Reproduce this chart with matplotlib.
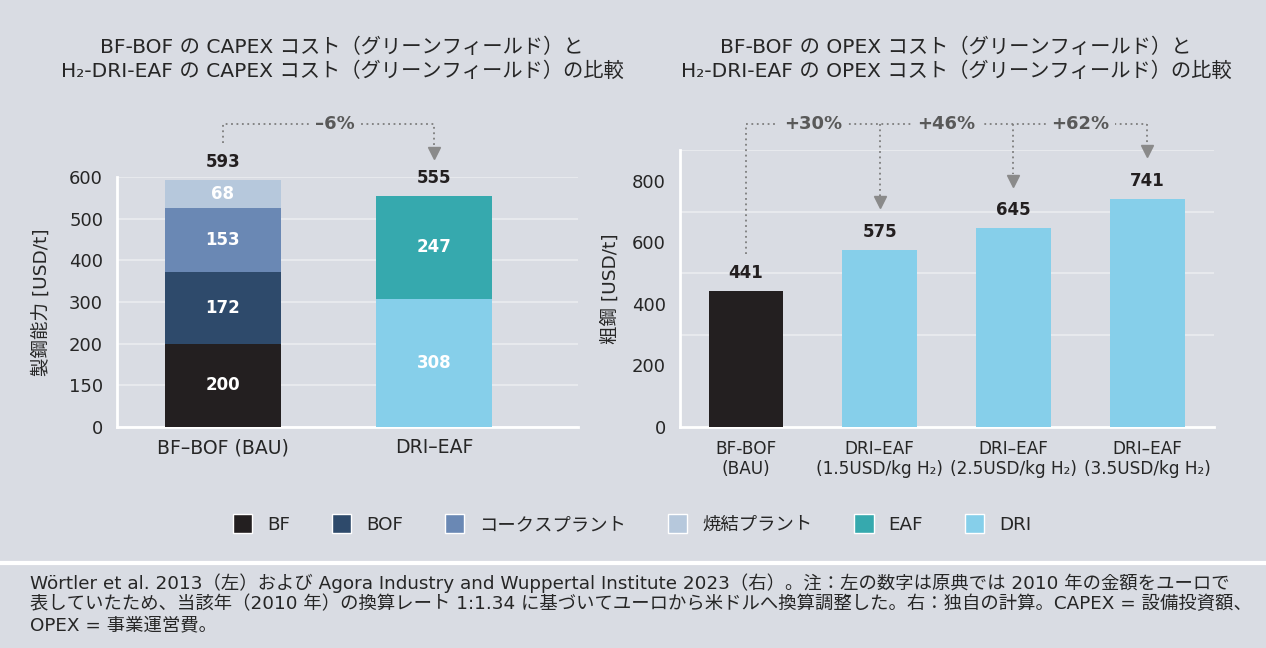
import matplotlib
matplotlib.use('Agg')
import matplotlib.pyplot as plt
from matplotlib.patches import Patch
from matplotlib.lines import Line2D

plt.rcParams['font.family'] = ['DejaVu Sans', 'Noto Sans CJK JP']

# ---------------- data ----------------
capex_categories = ['BF–BOF (BAU)', 'DRI–EAF']
capex_bf = [200, 0]
capex_bof = [172, 0]
capex_coke = [153, 0]
capex_sinter = [68, 0]
capex_dri = [0, 308]
capex_eaf = [0, 247]
capex_change_label = '–6%'
capex_yticks = [0, 100, 200, 300, 400, 500, 600]
capex_yticklabels = ['0', '150', '200', '300', '400', '500', '600']

opex_categories = ['BF-BOF\n(BAU)', 'DRI–EAF\n(1.5USD/kg H₂)',
                   'DRI–EAF\n(2.5USD/kg H₂)', 'DRI–EAF\n(3.5USD/kg H₂)']
opex_values = [441, 575, 645, 741]
opex_change_labels = ['+30%', '+46%', '+62%']
opex_yticks = [0, 200, 400, 600, 800]
opex_gridlines = [300, 500, 700, 900]

legend_labels = ['BF', 'BOF', 'コークスプラント', '焼結プラント', 'EAF', 'DRI']

title_left = 'BF-BOF の CAPEX コスト（グリーンフィールド）と\nH₂-DRI-EAF の CAPEX コスト（グリーンフィールド）の比較'
title_right = 'BF-BOF の OPEX コスト（グリーンフィールド）と\nH₂-DRI-EAF の OPEX コスト（グリーンフィールド）の比較'
ylabel_left = '製鋼能力 [USD/t]'
ylabel_right = '粗鋼 [USD/t]'
footnote_lines = [
    'Wörtler et al. 2013（左）および Agora Industry and Wuppertal Institute 2023（右）。注：左の数字は原典では 2010 年の金額をユーロで',
    '表していたため、当該年（2010 年）の換算レート 1:1.34 に基づいてユーロから米ドルへ換算調整した。右：独自の計算。CAPEX = 設備投資額、',
    'OPEX = 事業運営費。',
]

# ---------------- style ----------------
BG = '#d9dce3'
GRID = '#e7e9ed'
TXT = '#262626'
DARK = '#231f20'
C_BF = '#231f20'
C_BOF = '#2e4a6b'
C_COKE = '#6a88b4'
C_SINTER = '#b6c8dc'
C_EAF = '#36a9ae'
C_DRI = '#86cfea'
ARROW = '#7d7d7d'
PCT = '#595959'

W, H = 1266, 648
fig = plt.figure(figsize=(W / 100, H / 100), dpi=100, facecolor=BG)

axL = fig.add_axes([117 / W, 1 - 427 / H, (578 - 117) / W, 250 / H])
axR = fig.add_axes([680 / W, 1 - 427 / H, (1214 - 680) / W, 277 / H])

for ax in (axL, axR):
    ax.set_facecolor(BG)
    ax.spines['top'].set_visible(False)
    ax.spines['right'].set_visible(False)
    for s in ('left', 'bottom'):
        ax.spines[s].set_color('white')
        ax.spines[s].set_linewidth(2)
    ax.tick_params(which='both', length=0, labelsize=13, labelcolor=TXT)
    ax.set_axisbelow(True)

# ---------- left: CAPEX stacked ----------
xL = list(range(len(capex_categories)))
wL = 0.55
series = [(capex_bf, C_BF), (capex_bof, C_BOF), (capex_coke, C_COKE),
          (capex_sinter, C_SINTER), (capex_dri, C_DRI), (capex_eaf, C_EAF)]
bottoms = [0] * len(xL)
for vals, col in series:
    axL.bar(xL, vals, wL, bottom=bottoms, color=col, zorder=3)
    for i, v in enumerate(vals):
        if v > 0:
            axL.text(xL[i], bottoms[i] + v / 2, str(v), ha='center', va='center',
                     color='white', fontweight='bold', fontsize=12, zorder=4)
    bottoms = [b + v for b, v in zip(bottoms, vals)]
totals = bottoms
for i, t in enumerate(totals):
    axL.annotate(str(t), (xL[i], t), xytext=(0, 13), textcoords='offset points',
                 ha='center', va='center', fontweight='bold', fontsize=12,
                 color=DARK, annotation_clip=False)

axL.set_xlim(-0.502, 1.682)
axL.set_ylim(0, 600)
axL.set_yticks(capex_yticks)
axL.set_yticklabels(capex_yticklabels)
axL.set_xticks(xL)
axL.set_xticklabels(capex_categories)
axL.tick_params(axis='x', pad=8, labelsize=13.6)
axL.tick_params(axis='y', pad=10)
axL.yaxis.grid(True, color=GRID, lw=1.5)
axL.set_ylabel(ylabel_left, fontsize=13.3, color=TXT, labelpad=13)

# arrow left (data-unit offsets)
kL = 600 / 250  # data units per pixel
level_y = max(totals) + 134
start_y = totals[0] + 37 * kL
tip_y = totals[1] + 36 * kL
head_h = 12.5 * kL
axL.plot([xL[0], xL[0], xL[1], xL[1]], [start_y, level_y, level_y, tip_y + head_h],
         ls=(0, (1, 2)), color=ARROW, lw=1.3, clip_on=False, zorder=2)
axL.plot([xL[1]], [tip_y + head_h / 2], marker='v', markersize=9, color='#8a8a8a',
         clip_on=False, zorder=3)
axL.text((xL[0] + xL[1]) / 2 + 0.03, level_y, capex_change_label, ha='center', va='center',
         fontweight='bold', fontsize=13, color=PCT, clip_on=False, zorder=4,
         bbox=dict(boxstyle='square,pad=0.35', fc=BG, ec='none'))

# ---------- right: OPEX ----------
xR = list(range(len(opex_categories)))
wR = 0.56
colsR = [C_BF] + [C_DRI] * (len(opex_values) - 1)
axR.bar(xR, opex_values, wR, color=colsR, zorder=3)
for i, v in enumerate(opex_values):
    axR.annotate(str(v), (xR[i], v), xytext=(0, 13), textcoords='offset points',
                 ha='center', va='center', fontweight='bold', fontsize=12,
                 color=DARK, annotation_clip=False)
axR.set_xlim(-0.494, 3.50)
axR.set_ylim(0, 900)
axR.set_yticks(opex_yticks)
axR.set_yticks(opex_gridlines, minor=True)
axR.set_xticks(xR)
axR.set_xticklabels(opex_categories, linespacing=1.15)
axR.tick_params(axis='x', pad=9, labelsize=12.2)
axR.tick_params(axis='y', pad=10)
axR.yaxis.grid(True, which='minor', color=GRID, lw=1.5)
axR.yaxis.grid(False, which='major')
axR.set_ylabel(ylabel_right, fontsize=13.3, color=TXT, labelpad=9)

kR = 900 / 277
lvlR = 984
axR.plot([xR[0], xR[0]], [opex_values[0] + 37 * kR, lvlR], ls=(0, (1, 2)),
         color=ARROW, lw=1.3, clip_on=False, zorder=2)
axR.plot([xR[0], xR[-1]], [lvlR, lvlR], ls=(0, (1, 2)), color=ARROW, lw=1.3,
         clip_on=False, zorder=2)
for i in range(1, len(opex_values)):
    tip = opex_values[i] + 135
    hh = 12.5 * kR
    axR.plot([xR[i], xR[i]], [lvlR, tip + hh], ls=(0, (1, 2)), color=ARROW, lw=1.3,
             clip_on=False, zorder=2)
    axR.plot([xR[i]], [tip + hh / 2], marker='v', markersize=9, color='#8a8a8a',
             clip_on=False, zorder=3)
    axR.text((xR[i - 1] + xR[i]) / 2, lvlR, opex_change_labels[i - 1], ha='center',
             va='center', fontweight='bold', fontsize=13, color=PCT, clip_on=False,
             zorder=4, bbox=dict(boxstyle='square,pad=0.3', fc=BG, ec='none'))

# ---------- titles ----------
fig.text(342 / W, 1 - 59 / H, title_left, ha='center', va='center', fontsize=14.6,
         color=TXT, linespacing=1.3)
fig.text(956 / W, 1 - 59 / H, title_right, ha='center', va='center', fontsize=14.6,
         color=TXT, linespacing=1.3)

# ---------- legend ----------
leg_colors = [C_BF, C_BOF, C_COKE, C_SINTER, C_EAF, C_DRI]
handles = [Patch(facecolor=c, edgecolor='white', linewidth=1) for c in leg_colors]
fig.legend(handles, legend_labels, loc='center', bbox_to_anchor=(632 / W, 1 - 524 / H),
           ncol=6, frameon=False, fontsize=13.2, handlelength=1.05, handleheight=1.25,
           handletextpad=0.8, columnspacing=2.3, labelcolor=TXT)

# ---------- footnote ----------
fig.add_artist(Line2D([0, 1], [1 - 562.5 / H] * 2, transform=fig.transFigure,
                      color='white', lw=3))
for j, line in enumerate(footnote_lines):
    fig.text(30 / W, 1 - (583 + 21 * j) / H, line, ha='left', va='center',
             fontsize=13.2, color=TXT, family=['DejaVu Sans', 'Noto Sans CJK JP'])

fig.savefig('out.png', dpi=100, facecolor=BG)
